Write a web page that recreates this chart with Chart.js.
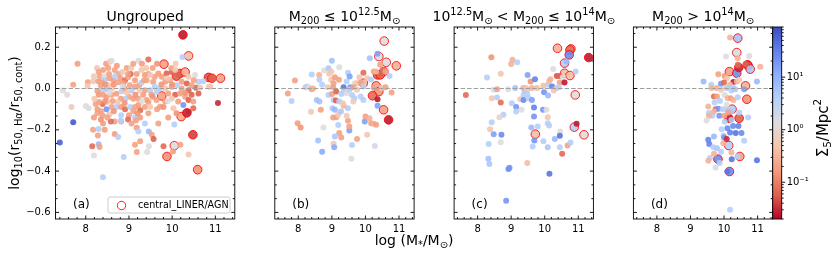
<!DOCTYPE html>
<html>
<head>
<meta charset="utf-8">
<script src="https://cdn.jsdelivr.net/npm/chart.js@4.4.1/dist/chart.umd.min.js"></script>
<style>
  body { margin: 0; background: #fff; }
  #wrap { position: relative; width: 831px; height: 256px; }
  #wrap canvas { position: absolute; left: 0; top: 0; }
</style>
</head>
<body>
<div id="wrap">
  <canvas id="pa" width="831" height="256"></canvas>
  <canvas id="pb" width="831" height="256"></canvas>
  <canvas id="pc" width="831" height="256"></canvas>
  <canvas id="pd" width="831" height="256"></canvas>
  <canvas id="cbar" width="831" height="256"></canvas>
</div>
<script>
// each point: [log stellar mass, log10 size ratio, sigma_5]
const ungrouped = [
  [7.81,0.12,0.18],[7.71,0.018,0.2],[7.47,-0.01,1.3],[7.57,-0.03,1.2],[7.67,-0.09,0.6],[7.71,-0.163,70],
  [8.05,0.03,0.2],[8.04,0.012,0.5],[8.00,-0.085,1.3],[8.07,-0.095,1.5],[8.26,0.10,0.5],[8.19,0.06,0.6],
  [8.17,0.035,0.5],[8.29,0.035,0.18],[8.33,0.06,0.2],[8.40,0.09,0.2],[8.47,0.12,0.18],[8.56,0.13,0.5],
  [8.60,0.135,1.3],[8.52,0.10,0.2],[8.72,0.11,0.18],[8.67,0.09,0.2],[8.43,0.06,1.3],[8.54,0.07,0.2],
  [8.44,0.04,4],[8.37,0.03,0.2],[8.52,0.017,0.5],[8.64,0.04,0.18],[8.76,0.07,0.2],[8.80,0.05,0.18],
  [8.68,0.06,4],[8.48,-0.003,5],[8.60,0,0.5],[8.37,-0.01,4],[8.27,-0.012,0.2],[8.30,-0.03,0.16],
  [8.40,-0.03,0.2],[8.48,-0.04,0.18],[8.60,-0.03,0.2],[8.71,-0.025,0.18],[8.83,-0.013,4],[8.90,0,0.2],
  [8.91,0.04,0.07],[8.98,0.055,0.2],[8.87,0.025,0.18],[9.02,0.016,0.2],[9.14,0.04,0.18],[9.22,0.135,1.3],
  [9.45,0.14,0.07],[9.18,0.07,0.2],[9.29,0.09,0.5],[9.37,0.065,0.18],[9.45,0.07,0.2],[9.04,0.07,0.07],
  [8.98,0.07,0.2],[9.06,-0.01,4],[9.14,0.008,0.2],[9.24,0.016,0.18],[9.29,0.028,4],[9.37,-0.008,0.2],
  [9.33,-0.03,0.18],[9.22,-0.05,0.2],[9.10,-0.05,0.18],[9.00,-0.04,0.2],[8.92,-0.05,4],[8.81,-0.05,0.18],
  [8.74,-0.065,0.5],[8.62,-0.06,0.2],[8.50,-0.065,0.5],[8.39,-0.075,0.07],[8.31,-0.065,0.18],[8.23,-0.075,0.2],
  [8.27,-0.10,0.18],[8.35,-0.11,0.2],[8.48,-0.10,20],[8.60,-0.09,0.2],[8.71,-0.09,4],[8.82,-0.09,0.18],
  [8.91,-0.10,0.07],[9.03,-0.09,4],[9.14,-0.09,0.2],[9.22,-0.08,0.18],[9.26,-0.105,0.07],[9.37,-0.09,0.2],
  [9.45,-0.065,0.18],[8.27,-0.12,0.2],[8.19,-0.14,0.18],[8.39,-0.13,0.2],[8.55,-0.125,0.5],[8.82,-0.13,4],
  [9.00,-0.13,0.2],[9.14,-0.14,4],[9.26,-0.14,0.18],[8.82,-0.16,0.2],[8.40,-0.17,0.18],[8.67,-0.16,0.2],
  [8.98,-0.15,0.07],[9.06,-0.17,0.2],[9.37,-0.17,4],
  [10.24,0.153,4],[10.08,0.12,0.5],[10.14,0.065,0.06],[9.99,0.08,0.06],[9.87,0.073,0.06],[9.98,0.098,0.18],
  [10.07,0.09,0.5],[10.38,0.057,0.5],[10.53,0.065,1.3],[10.61,0.033,4],[10.96,0.047,0.06],[10.88,0.008,0.5],
  [10.55,0.004,0.06],[9.68,0.073,0.18],[9.60,0.057,0.2],[9.76,0.057,0.18],[9.49,0.065,0.5],[9.56,0.033,0.2],
  [9.84,0.033,0.18],[9.95,0.04,0.2],[10.22,0.033,0.18],[10.34,0.024,0.06],[10.45,0.016,0.18],[10.11,0.016,4],
  [9.60,0.008,4],[9.72,0,4],[9.84,0,0.5],[9.99,0.008,0.18],[10.22,0,0.2],[10.38,-0.008,0.06],
  [9.41,0.04,0.2],[9.49,-0.008,4],[9.64,-0.016,4],[9.52,-0.03,0.18],[9.91,-0.024,0.2],[10.07,-0.03,0.06],
  [10.18,-0.024,0.18],[10.30,-0.04,0.2],[10.45,-0.03,0.06],[10.61,-0.024,0.06],[9.41,-0.055,0.18],[9.64,-0.055,0.2],
  [9.84,-0.063,0.18],[9.99,-0.048,0.5],[10.14,-0.063,0.18],[10.38,-0.055,0.06],[10.49,-0.063,0.18],[11.06,-0.07,0.03],
  [9.49,-0.088,0.5],[9.72,-0.088,0.18],[10.03,-0.096,0.5],[10.26,-0.08,20],[10.38,-0.113,0.03],[10.49,-0.096,0.07],
  [9.91,-0.14,0.18],[9.68,-0.17,0.2],[10.05,-0.174,4],[10.72,0.035,4],[10.65,0.005,0.5],[10.85,0.01,0.5],
  [7.40,-0.261,60],[8.17,-0.20,0.2],[8.30,-0.196,4],[8.44,-0.20,0.18],[8.58,-0.16,0.07],[8.81,-0.156,4],
  [8.28,-0.227,0.2],[8.67,-0.22,0.18],[8.75,-0.235,4],[8.15,-0.28,0.07],[8.19,-0.324,1.3],[8.30,-0.27,8],
  [8.32,-0.283,0.2],[8.88,-0.332,4],[8.40,-0.43,4],[9.18,-0.19,0.18],[9.16,-0.155,0.2],[9.22,-0.208,4],
  [9.26,-0.256,0.18],[9.14,-0.272,0.2],[9.18,-0.307,0.2],[9.42,-0.307,1.3],[9.46,-0.208,8],
  [9.53,-0.224,0.2],[9.57,-0.245,0.06],[9.46,-0.28,1.3],[9.80,-0.28,0.07],[10.02,-0.305,0.18],[10.19,-0.272,0.2],
  [10.38,-0.32,0.5],
  [8.35,0.015,0.2],[8.45,0.02,0.15],[8.55,0.05,0.2],[8.65,0.02,0.15],[8.75,0.03,0.2],[8.85,0.08,0.5],
  [8.95,0.10,0.2],[9.05,0.10,0.5],[9.10,0.12,0.2],[9.30,0.12,0.18],[9.40,0.10,0.5],[9.55,0.10,0.2],
  [9.65,0.12,0.15],[9.35,0.04,0.2],[9.25,-0.01,0.5],[9.15,-0.03,0.15],[8.95,-0.02,0.5],[8.85,0.01,1.3],
  [8.55,-0.02,1.3],[8.45,-0.06,0.15],[8.65,-0.11,0.15],[8.90,-0.07,0.15],[9.10,-0.11,0.2],[9.30,-0.06,1.3],
  [9.55,-0.04,0.15],[9.65,-0.10,0.2],[9.80,-0.09,0.15],[9.90,-0.06,1.3],[10.10,-0.12,0.15],[10.30,-0.02,0.15],
  [10.50,0.04,0.2],[9.75,0.02,0.15],[9.90,0.05,0.5],[10.00,0.02,0.15],[8.30,0.08,0.2],[8.20,-0.05,0.5],
  [8.35,-0.15,0.15],[8.50,-0.14,0.2],[9.20,-0.12,0.15],[9.45,-0.12,0.2]
];
const ungroupedAgn = [
  [10.25,0.26,0.025],[10.38,0.158,0.4],[9.81,0.118,0.2],[10.18,0.073,0.06],[10.30,0.08,0.3],[10.10,0.06,0.06],
  [9.76,-0.036,0.2],[10.21,-0.136,0.25],[10.34,-0.118,0.03],[10.05,-0.277,1.3],[9.88,-0.329,0.15],[10.48,-0.224,0.04],
  [10.59,-0.393,0.15],[10.84,0.054,0.05],[10.92,0.05,0.06],[11.12,0.05,0.2]
];
const lowMass = [
  [7.69,-0.024,0.2],[7.80,-0.061,4],[7.90,0.039,0.2],[7.98,-0.168,0.18],[8.07,-0.189,0.15],[8.21,0.006,0.5],
  [8.26,0.01,4],[8.32,0.006,1.3],[8.40,-0.003,0.2],[8.44,0,0.3],[8.38,-0.113,0.6],[8.40,0.068,4],
  [8.62,0.066,0.3],[8.63,0.042,4],[8.71,0.018,4],[8.55,-0.055,6],[8.63,-0.063,6],[8.67,-0.103,0.2],
  [8.75,-0.189,1.3],[8.77,0.087,1.3],[8.90,0.098,5],[8.98,0.082,0.5],[9.00,0.134,6],[8.92,0.071,0.5],
  [8.98,0.042,0.5],[9.05,0.026,0.2],[9.09,0.055,0.18],[9.21,0.042,0.2],[9.22,0.103,1.3],[8.88,0.006,0.5],
  [8.90,-0.031,4],[9.00,-0.027,0.2],[9.05,-0.055,4],[9.04,0.006,0.18],[9.13,-0.015,0.06],[9.02,-0.095,5],
  [9.09,-0.103,8],[9.12,-0.058,0.06],[9.04,-0.14,0.2],[9.13,-0.139,0.2],[9.19,-0.127,0.6],[9.22,-0.063,4],
  [9.28,-0.026,4],[9.35,0.006,40],[9.44,0.034,4],[9.36,-0.015,4],[9.44,-0.023,1.3],[9.55,0.006,20],
  [9.52,-0.006,4],[9.48,-0.095,4],[9.35,-0.084,0.3],[9.33,-0.071,0.6],[9.27,-0.111,5],[9.19,-0.177,4],
  [9.22,-0.216,0.2],[9.09,-0.232,5],[9.05,-0.268,0.5],[9.07,-0.285,12],[9.28,-0.237,0.2],[9.48,-0.156,0.2],
  [9.52,-0.203,15],[9.52,-0.184,0.2],[9.44,-0.132,0.6],[8.71,-0.306,12],[8.59,-0.252,6],[9.58,-0.34,1.3],
  [9.60,-0.273,4],[9.75,-0.245,0.2],[9.48,0.077,4],[9.53,0.058,15],[9.68,0.026,1.3],[9.75,0.026,0.5],
  [9.64,0.006,0.2],[9.75,-0.006,0.5],[9.86,0.029,0.2],[9.94,0.077,0.07],[9.94,0.01,4],[9.60,-0.031,4],
  [9.67,-0.047,4],[9.86,-0.039,4],[9.94,-0.055,4],[9.64,-0.063,0.6],[9.98,-0.16,15],[10.00,-0.135,0.2],
  [10.12,-0.144,0.3],[10.17,-0.168,0.2],[10.25,-0.171,0.3],[10.32,-0.176,0.2],[10.05,-0.224,0.5],[10.28,-0.279,1.8],
  [10.13,0.147,6],[10.05,0.05,0.5],[10.17,0.042,4],[10.25,0.082,0.2],[10.32,0.082,0.3],[10.36,0.168,15],
  [10.44,0.115,0.2],[10.52,0.09,0.07],[10.60,0.082,0.2],[10.72,0.061,4],[10.25,0.002,0.2],[10.48,0.002,0.5],
  [10.60,0.006,0.2],[10.78,-0.019,0.2],[10.36,-0.052,0.025],[10.36,-0.084,15],[9.82,0.055,0.5]
];
const lowMassAgn = [
  [10.56,0.23,1.3],[10.40,0.155,1.5],[10.62,0.127,1.5],[10.55,0.082,4],[10.92,0.11,0.3],[10.36,0.066,0.06],
  [10.44,0.066,0.06],[9.94,0.026,0.3],[10.32,0.013,0.2],[10.40,-0.015,0.15],[10.21,-0.035,0.07],[10.54,-0.103,0.2],
  [10.69,-0.152,0.025]
];
const midMass = [
  [7.65,-0.031,0.07],[8.41,0.152,0.15],[8.28,0.053,4],[8.42,-0.047,0.5],[8.48,-0.006,1.3],[8.58,-0.003,0.2],
  [8.58,-0.044,4],[8.69,0.071,0.5],[8.69,-0.068,0.07],[8.77,-0.127,4],[8.65,-0.139,0.8],[8.42,-0.163,4],
  [8.37,-0.197,0.5],[8.48,-0.221,15],[8.71,-0.224,25],[8.69,-0.26,1.3],[8.33,-0.269,4],[8.32,-0.34,6],
  [8.35,-0.365,5],[8.92,-0.39,25],[8.95,-0.384,20],[8.85,-0.544,20],[8.91,-0.003,1.3],[9.00,0.119,0.3],
  [9.04,0.139,0.3],[9.18,0.127,4],[9.12,0.003,6],[9.02,-0.071,4],[9.15,-0.09,20],[9.15,-0.111,4],
  [9.27,-0.052,0.6],[9.31,-0.103,1.3],[9.36,0.003,0.3],[9.37,-0.031,4],[9.37,-0.055,25],[9.40,-0.01,5],
  [9.44,0.002,0.4],[9.48,-0.003,0.5],[9.49,0.066,15],[9.48,-0.026,4],[9.52,-0.047,4],[9.48,-0.361,0.4],
  [9.58,0.034,0.15],[9.62,0.002,0.3],[9.62,-0.055,15],[9.71,0.045,30],[9.68,-0.092,30],[9.68,-0.135,20],
  [9.69,-0.252,20],[9.64,-0.281,4],[9.60,-0.189,8],[9.79,-0.184,4],[9.77,0.002,0.4],[9.96,0.013,0.4],
  [9.98,-0.018,20],[9.95,-0.103,20],[9.96,-0.256,4],[10.05,-0.103,1.3],[10.09,-0.168,4],[10.09,-0.284,5],
  [10.10,-0.034,8],[10.13,-0.179,4],[10.09,-0.139,0.5],[10.10,0.018,4],[10.13,0.034,0.4],[10.17,0.045,0.3],
  [10.22,0.01,30],[10.25,0.095,1.3],[10.27,-0.01,0.5],[10.14,-0.413,40],[10.30,-0.245,8],[10.35,0.002,0.4],
  [10.36,0.061,0.05],[10.45,0.061,0.06],[10.45,0.029,0.2],[10.42,0.006,4],[10.46,-0.208,1.3],[10.45,-0.229,40],
  [10.45,-0.284,4],[10.54,0.055,1.3],[10.59,0.029,0.025],[10.65,0.131,8],[10.68,-0.276,0.2],[10.77,-0.261,4],
  [10.92,0.082,4],[10.52,-0.316,0.07],[10.95,-0.171,0.025]
];
const midMassAgn = [
  [10.38,0.195,0.3],[10.78,0.192,0.3],[10.75,0.187,0.07],[10.73,0.163,25],[11.31,0.15,0.025],[10.59,0.123,4],
  [10.59,0.074,0.4],[10.75,0.063,0.4],[10.91,-0.031,1.3],[9.72,-0.221,0.4],[10.88,-0.187,4],[11.17,-0.224,1.3]
];
const highMass = [
  [9.39,0.034,8],[10.18,0.247,0.3],[10.06,0.155,1.3],[10.41,0.147,0.3],[10.75,0.158,1.3],[10.41,0.115,0.07],
  [10.64,0.119,0.06],[11.08,0.106,0.3],[9.83,0.069,0.2],[10.02,0.061,0.15],[10.28,0.031,0.025],[10.09,0.05,0.5],
  [9.91,0.023,20],[9.62,0.018,4],[10.00,0.029,0.07],[10.04,0.002,1.3],[10.18,0.018,0.3],[10.26,0.006,4],
  [10.38,0.034,0.3],[10.45,0.042,0.5],[10.60,-0.003,15],[10.98,0.034,8],[9.63,0.002,0.3],[9.78,0.002,0.3],
  [9.91,-0.006,0.5],[10.09,0.002,4],[10.22,-0.01,4],[10.33,-0.003,5],[9.70,-0.039,0.07],[9.79,-0.039,0.2],
  [10.02,-0.031,1.3],[10.11,-0.047,0.3],[10.20,-0.047,0.2],[10.28,-0.055,0.3],[10.41,-0.042,4],[9.88,-0.061,4],
  [9.72,-0.068,4],[10.08,-0.079,1.3],[9.53,-0.087,0.3],[9.75,-0.10,0.07],[9.83,-0.098,20],[9.96,-0.10,4],
  [10.10,-0.103,4],[10.22,-0.111,5],[9.55,-0.119,4],[9.65,-0.132,4],[9.70,-0.111,0.3],[9.55,-0.132,0.3],
  [9.48,-0.155,1.3],[9.86,-0.132,20],[10.01,-0.132,0.2],[10.12,-0.116,0.2],[10.02,-0.161,4],[10.45,-0.116,4],
  [10.72,-0.14,4],[10.22,-0.152,5],[10.27,-0.181,25],[10.10,-0.192,25],[10.18,-0.213,30],[9.93,-0.197,4],
  [9.99,-0.229,5],[10.00,-0.237,20],[10.35,-0.216,40],[10.43,-0.181,30],[10.52,-0.216,25],[10.60,-0.253,4],
  [9.70,-0.232,8],[9.53,-0.248,30],[9.56,-0.269,30],[9.68,-0.285,4],[9.79,-0.289,5],[9.91,-0.306,4],
  [9.98,-0.265,0.3],[10.08,-0.245,0.03],[10.22,-0.31,0.3],[10.23,-0.342,40],[10.40,-0.329,4],[9.58,-0.337,4],
  [9.53,-0.35,0.3],[9.70,-0.316,0.3],[9.87,-0.361,4],[9.75,-0.382,1.5],[10.10,-0.402,40],[10.98,-0.348,40],
  [10.18,-0.587,4]
];
const highMassAgn = [
  [10.41,0.244,6],[10.38,0.174,1.5],[10.70,0.115,0.04],[10.72,0.11,0.05],[10.78,0.094,5],[10.16,0.082,0.2],
  [10.38,0.074,25],[10.44,0.102,0.03],[10.64,0.013,0.3],[10.68,-0.052,0.15],[10.24,-0.10,4],[10.14,-0.144,0.025],
  [10.45,-0.144,0.06],[10.14,-0.276,4],[10.47,-0.329,0.2],[9.82,-0.342,25],[10.16,-0.402,25]
];

const xTicks = [8, 9, 10, 11];
const yTicks = [-0.6, -0.4, -0.2, 0, 0.2];
const cbarMajor = [0.1, 1, 10];
const cbarLabels = ['10\u207B\u00B9', '10\u2070', '10\u00B9'];
const sigmaMin = 0.02, sigmaMax = 90;

const FONT = '"DejaVu Sans"';
Chart.defaults.font.family = 'DejaVu Sans';
Chart.defaults.color = '#000';

const coolwarm = [[59,76,192],[98,130,234],[141,176,254],[184,208,249],[221,221,221],
                  [245,196,173],[244,154,123],[222,96,77],[180,4,38]];

function sigmaColor(s, a) {
  let t = (Math.log10(s) - Math.log10(sigmaMin)) / (Math.log10(sigmaMax) - Math.log10(sigmaMin));
  t = Math.min(1, Math.max(0, t));
  // reversed map: low density red, high density blue
  const u = (1 - t) * 8;
  const i = Math.min(7, Math.floor(u));
  const f = u - i;
  const c = coolwarm[i].map((v, k) => Math.round(v + (coolwarm[i + 1][k] - v) * f));
  return `rgba(${c[0]},${c[1]},${c[2]},${a})`;
}

// text with sub (-1) / super (1) scripts
function richText(ctx, parts, x, y, size, align) {
  let w = 0;
  parts.forEach(p => {
    ctx.font = (p[1] ? size * 0.7 : size) + 'px ' + FONT;
    w += ctx.measureText(p[0]).width;
  });
  let cx = align === 'center' ? x - w / 2 : x;
  ctx.textAlign = 'left';
  ctx.textBaseline = 'alphabetic';
  parts.forEach(p => {
    const fs = p[1] ? size * 0.7 : size;
    ctx.font = fs + 'px ' + FONT;
    const dy = p[1] === -1 ? size * 0.22 : p[1] === 1 ? -size * 0.42 : 0;
    ctx.fillText(p[0], cx, y + dy);
    cx += ctx.measureText(p[0]).width;
  });
}

const plotLefts = [55.5, 234.8, 414.1, 593.4];
const plotW = 179.3;
const plotTop = 27, plotBottom = 219;

const panelDeco = {
  id: 'panelDeco',
  afterDatasetsDraw(chart, args, opts) {
    const {ctx, chartArea: a, scales} = chart;
    const y0 = scales.y.getPixelForValue(0);
    ctx.save();
    ctx.strokeStyle = '#a0a0a0';
    ctx.lineWidth = 1.2;
    ctx.setLineDash([4.5, 2]);
    ctx.beginPath();
    ctx.moveTo(a.left, y0);
    ctx.lineTo(a.right, y0);
    ctx.stroke();
    ctx.restore();
  },
  afterDraw(chart, args, opts) {
    const {ctx, chartArea: a, scales} = chart;
    const xs = scales.x, ys = scales.y;
    ctx.save();
    ctx.strokeStyle = '#000';
    ctx.lineWidth = 0.9;
    ctx.strokeRect(a.left, a.top, a.right - a.left, a.bottom - a.top);
    // inward ticks on all four sides
    ctx.beginPath();
    for (let v = 7.4; v < 11.45; v += 0.2) {
      const px = xs.getPixelForValue(v);
      const major = xTicks.some(t => Math.abs(t - v) < 1e-6);
      const len = major ? 3.5 : 2;
      ctx.moveTo(px, a.bottom); ctx.lineTo(px, a.bottom - len);
      ctx.moveTo(px, a.top); ctx.lineTo(px, a.top + len);
    }
    for (let k = -9; k <= 4; k++) {
      const v = k * 0.2 / 3;
      if (v < ys.min || v > ys.max) continue;
      const py = ys.getPixelForValue(v);
      const len = k % 3 === 0 ? 3.5 : 2;
      ctx.moveTo(a.left, py); ctx.lineTo(a.left + len, py);
      ctx.moveTo(a.right, py); ctx.lineTo(a.right - len, py);
    }
    ctx.stroke();

    ctx.fillStyle = '#000';
    richText(ctx, opts.title, (a.left + a.right) / 2, 21, 14, 'center');

    ctx.font = '12px ' + FONT;
    ctx.textAlign = 'left';
    ctx.textBaseline = 'middle';
    ctx.fillText(opts.tag, a.left + 17.5, 205);

    if (opts.legend) {
      const bx = 108, by = 197, bw = 122, bh = 16;
      ctx.fillStyle = 'rgba(255,255,255,0.8)';
      ctx.strokeStyle = '#cccccc';
      ctx.lineWidth = 1;
      ctx.beginPath();
      ctx.roundRect(bx, by, bw, bh, 2);
      ctx.fill();
      ctx.stroke();
      ctx.strokeStyle = 'rgba(255,0,0,0.85)';
      ctx.beginPath();
      ctx.arc(121.5, 205.5, 4.2, 0, Math.PI * 2);
      ctx.stroke();
      ctx.fillStyle = '#000';
      ctx.font = '9.6px ' + FONT;
      ctx.textBaseline = 'middle';
      ctx.fillText('central_LINER/AGN', 138, 205.5);
    }

    if (opts.axisLabels) {
      ctx.fillStyle = '#000';
      ctx.save();
      ctx.translate(18.5, (plotTop + plotBottom) / 2);
      ctx.rotate(-Math.PI / 2);
      richText(ctx, [['log', 0], ['10', -1], ['(r', 0], ['50, H\u03B1', -1], ['/r', 0], ['50, cont', -1], [')', 0]], 0, 0, 14, 'center');
      ctx.restore();
      richText(ctx, [['log (M', 0], ['*', -1], ['/M', 0], ['\u2299', -1], [')', 0]], 414, 245, 14, 'center');
    }
    ctx.restore();
  }
};

const panels = [
  {id: 'pa', pts: ungrouped, agn: ungroupedAgn, tag: '(a)', legend: true,
   title: [['Ungrouped', 0]]},
  {id: 'pb', pts: lowMass, agn: lowMassAgn, tag: '(b)',
   title: [['M', 0], ['200', -1], [' \u2264 10', 0], ['12.5', 1], ['M', 0], ['\u2299', -1]]},
  {id: 'pc', pts: midMass, agn: midMassAgn, tag: '(c)',
   title: [['10', 0], ['12.5', 1], ['M', 0], ['\u2299', -1], [' < M', 0], ['200', -1], [' \u2264 10', 0], ['14', 1], ['M', 0], ['\u2299', -1]]},
  {id: 'pd', pts: highMass, agn: highMassAgn, tag: '(d)',
   title: [['M', 0], ['200', -1], [' > 10', 0], ['14', 1], ['M', 0], ['\u2299', -1]]}
];

panels.forEach((p, i) => {
  const first = i === 0;
  const yAxisW = 40;
  new Chart(document.getElementById(p.id), {
    type: 'scatter',
    data: {
      datasets: [
        {
          data: p.pts.map(d => ({x: d[0], y: d[1]})),
          backgroundColor: p.pts.map(d => sigmaColor(d[2], 0.9)),
          borderWidth: 0,
          pointRadius: 3,
        },
        {
          data: p.agn.map(d => ({x: d[0], y: d[1]})),
          backgroundColor: p.agn.map(d => sigmaColor(d[2], 0.9)),
          borderColor: 'rgba(255,0,0,0.85)',
          borderWidth: 1,
          pointRadius: 4.3,
        },
      ],
    },
    options: {
      responsive: false,
      animation: false,
      devicePixelRatio: 1,
      layout: {
        padding: {
          left: first ? plotLefts[i] - yAxisW : plotLefts[i],
          right: 831 - (plotLefts[i] + plotW),
          top: plotTop,
          bottom: 256 - plotBottom - 20,
        },
      },
      plugins: {
        legend: {display: false},
        tooltip: {enabled: false},
        panelDeco: {title: p.title, tag: p.tag, legend: !!p.legend, axisLabels: first},
      },
      scales: {
        x: {
          type: 'linear',
          min: 7.3,
          max: 11.45,
          afterBuildTicks: s => { s.ticks = xTicks.map(v => ({value: v})); },
          afterFit: s => { s.height = 20; },
          grid: {display: false, drawTicks: false},
          border: {display: false},
          ticks: {font: {size: 10}, padding: 4, maxRotation: 0, autoSkip: false, callback: v => String(v)},
        },
        y: {
          type: 'linear',
          display: first,
          min: -0.632,
          max: 0.298,
          afterBuildTicks: s => { s.ticks = yTicks.map(v => ({value: v})); },
          afterFit: s => { s.width = yAxisW; },
          grid: {display: false, drawTicks: false},
          border: {display: false},
          ticks: {
            font: {size: 10},
            padding: 5,
            autoSkip: false,
            callback: v => (v < -1e-9 ? '\u2212' : '') + Math.abs(v).toFixed(1),
          },
        },
      },
    },
    plugins: [panelDeco],
  });
});

// colorbar
const cbarLeft = 772.7, cbarW = 9;
const cbarDeco = {
  id: 'cbarDeco',
  beforeDatasetsDraw(chart) {
    const {ctx, chartArea: a, scales} = chart;
    const ys = scales.y;
    for (let py = Math.floor(a.top); py < a.bottom; py++) {
      ctx.fillStyle = sigmaColor(ys.getValueForPixel(py + 0.5), 1);
      ctx.fillRect(a.left, py, a.right - a.left, 1);
    }
  },
  afterDraw(chart) {
    const {ctx, chartArea: a, scales} = chart;
    const ys = scales.y;
    ctx.save();
    ctx.strokeStyle = '#000';
    ctx.lineWidth = 0.9;
    ctx.strokeRect(a.left, a.top, a.right - a.left, a.bottom - a.top);
    ctx.beginPath();
    ys.ticks.forEach(t => {
      const py = ys.getPixelForValue(t.value);
      const major = cbarMajor.some(m => Math.abs(m - t.value) / m < 1e-6);
      ctx.moveTo(a.right, py);
      ctx.lineTo(a.right + (major ? 3.5 : 2), py);
    });
    ctx.stroke();
    ctx.fillStyle = '#000';
    ctx.translate(827.5, 128);
    ctx.rotate(-Math.PI / 2);
    richText(ctx, [['\u03A3', 0], ['5', -1], ['/Mpc', 0], ['2', 1]], 0, 0, 15, 'center');
    ctx.restore();
  }
};

const cbarTicks = [];
[0.01, 0.1, 1, 10].forEach(d => {
  for (let k = 1; k <= 9; k++) {
    const v = d * k;
    if (v >= sigmaMin - 1e-9 && v <= sigmaMax + 1e-9) cbarTicks.push(v);
  }
});

new Chart(document.getElementById('cbar'), {
  type: 'scatter',
  data: {datasets: [{data: []}]},
  options: {
    responsive: false,
    animation: false,
    devicePixelRatio: 1,
    layout: {padding: {left: cbarLeft, right: 831 - cbarLeft - cbarW - 28, top: plotTop, bottom: 256 - plotBottom}},
    plugins: {legend: {display: false}, tooltip: {enabled: false}},
    scales: {
      x: {type: 'linear', display: false, min: 0, max: 1},
      y: {
        type: 'logarithmic',
        position: 'right',
        min: sigmaMin,
        max: sigmaMax,
        afterBuildTicks: s => { s.ticks = cbarTicks.map(v => ({value: v})); },
        afterFit: s => { s.width = 28; },
        grid: {display: false, drawTicks: false},
        border: {display: false},
        ticks: {
          font: {size: 10},
          padding: 5,
          autoSkip: false,
          callback: v => {
            const idx = cbarMajor.findIndex(m => Math.abs(m - v) / m < 1e-6);
            return idx >= 0 ? cbarLabels[idx] : '';
          },
        },
      },
    },
  },
  plugins: [cbarDeco],
});
</script>
</body>
</html>
